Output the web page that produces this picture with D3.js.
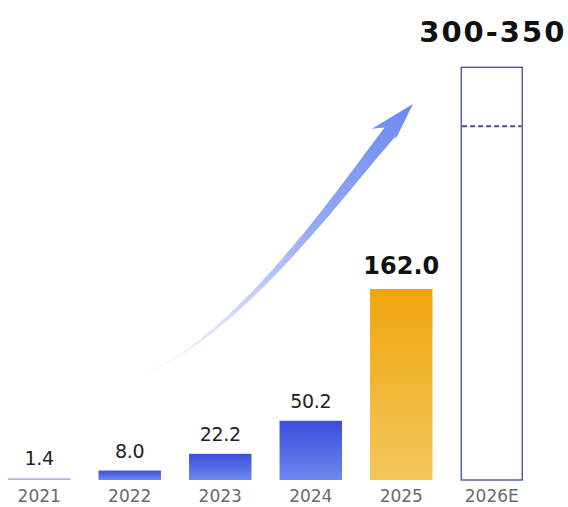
<!DOCTYPE html>
<html>
<head>
<meta charset="utf-8">
<script src="https://cdn.jsdelivr.net/npm/d3@7"></script>
<style>
  html, body { margin: 0; padding: 0; background: #ffffff; }
  svg { display: block; }
</style>
</head>
<body>
<svg id="chart" width="568" height="507"></svg>
<script>
// Yearly values; 2026E is a forecast range
const years = ["2021", "2022", "2023", "2024", "2025", "2026E"];
const values = [1.4, 8.0, 22.2, 50.2, 162.0, null];
const valueLabels = ["1.4", "8.0", "22.2", "50.2", "162.0", "300-350"];
const forecastLow = 300;
const forecastHigh = 350;

const svg = d3.select("#chart");

const x = d3.scaleBand().domain(years).range([8, 523]).paddingInner(0.31).paddingOuter(0);
const y = d3.scaleLinear().domain([0, 350]).range([480, 67.3]);

const defs = svg.append("defs");

function vGrad(id, top, bottom) {
  const g = defs.append("linearGradient").attr("id", id)
    .attr("x1", 0).attr("y1", 0).attr("x2", 0).attr("y2", 1);
  g.append("stop").attr("offset", "0%").attr("stop-color", top);
  g.append("stop").attr("offset", "100%").attr("stop-color", bottom);
}
vGrad("blueGrad", "#3a4ddd", "#6e88ee");
vGrad("goldGrad", "#f0a50c", "#f2c75c");

// Growth arrow: tapered curved shaft with swept head, drawn behind the bars
const p0 = [x("2022") + 42, y(88)];
const p3 = [390, 132];
const tip = [413, 104];
const dLen = Math.hypot(tip[0] - p3[0], tip[1] - p3[1]);
const d = [(tip[0] - p3[0]) / dLen, (tip[1] - p3[1]) / dLen];
const p2 = [p3[0] - d[0] * 80, p3[1] - d[1] * 80];
const p1 = [240, 335];

function bez(t) {
  const u = 1 - t;
  const a = u * u * u, b = 3 * u * u * t, c = 3 * u * t * t, e = t * t * t;
  return [a * p0[0] + b * p1[0] + c * p2[0] + e * p3[0],
          a * p0[1] + b * p1[1] + c * p2[1] + e * p3[1]];
}
function tangent(t) {
  const u = 1 - t;
  const tx = 3 * u * u * (p1[0] - p0[0]) + 6 * u * t * (p2[0] - p1[0]) + 3 * t * t * (p3[0] - p2[0]);
  const ty = 3 * u * u * (p1[1] - p0[1]) + 6 * u * t * (p2[1] - p1[1]) + 3 * t * t * (p3[1] - p2[1]);
  const l = Math.hypot(tx, ty);
  return [tx / l, ty / l];
}
const N = 60;
const left = [], right = [];
for (let k = 0; k <= N; k++) {
  const t = k / N;
  const p = bez(t), tg = tangent(t);
  const hw = 0.5 + 6.5 * Math.pow(t, 1.3);
  const n = [tg[1], -tg[0]]; // left-hand normal
  left.push([p[0] + n[0] * hw, p[1] + n[1] * hw]);
  right.push([p[0] - n[0] * hw, p[1] - n[1] * hw]);
}
const nEnd = [d[1], -d[0]];
const leftBarb = [p3[0] + nEnd[0] * 16 - d[0] * 9, p3[1] + nEnd[1] * 16 - d[1] * 9];
const rightBarb = [p3[0] - nEnd[0] * 9 - d[0] * 2, p3[1] - nEnd[1] * 9 - d[1] * 2];
const outline = left.concat([leftBarb, tip, rightBarb]).concat(right.slice().reverse());

const ag = defs.append("linearGradient").attr("id", "arrowGrad")
  .attr("gradientUnits", "userSpaceOnUse")
  .attr("x1", p0[0]).attr("y1", p0[1]).attr("x2", tip[0]).attr("y2", tip[1]);
ag.append("stop").attr("offset", "0%").attr("stop-color", "#7d98ef").attr("stop-opacity", 0);
ag.append("stop").attr("offset", "25%").attr("stop-color", "#7d98ef").attr("stop-opacity", 0.3);
ag.append("stop").attr("offset", "60%").attr("stop-color", "#7794ef").attr("stop-opacity", 0.8);
ag.append("stop").attr("offset", "100%").attr("stop-color", "#6b8af0").attr("stop-opacity", 1);

svg.append("path")
  .attr("d", d3.line()(outline) + "Z")
  .attr("fill", "url(#arrowGrad)");

// Actual bars
const bars = years.slice(0, 5).map((yr, i) => ({ yr, v: values[i], i }));
svg.selectAll("rect.bar").data(bars).enter().append("rect")
  .attr("class", "bar")
  .attr("x", d => x(d.yr))
  .attr("width", x.bandwidth())
  .attr("y", d => y(d.v))
  .attr("height", d => y(0) - y(d.v))
  .attr("fill", d => d.i === 0 ? "#a9b5e6" : (d.i === 4 ? "url(#goldGrad)" : "url(#blueGrad)"));

// Forecast bar: outline to the upper bound, dashed line at the lower bound
const fx = x("2026E");
svg.append("rect")
  .attr("x", fx + 0.75).attr("y", y(forecastHigh))
  .attr("width", x.bandwidth() - 1.5).attr("height", y(0) - y(forecastHigh))
  .attr("fill", "#ffffff").attr("stroke", "#5660a6").attr("stroke-width", 1.5);
svg.append("line")
  .attr("x1", fx + 1.5).attr("x2", fx + x.bandwidth() - 1.5)
  .attr("y1", y(forecastLow)).attr("y2", y(forecastLow))
  .attr("stroke", "#4a5496").attr("stroke-width", 1.8).attr("stroke-dasharray", "5,3");

// Value labels
const labelData = years.map((yr, i) => ({
  yr, i, text: valueLabels[i],
  top: i === 5 ? y(forecastHigh) : y(values[i])
}));
svg.selectAll("text.val").data(labelData).enter().append("text")
  .attr("class", "val")
  .attr("x", d => x(d.yr) + x.bandwidth() / 2 + (d.i === 5 ? 1 : 0))
  .attr("y", d => d.top - (d.i === 5 ? 25 : d.i === 4 ? 15 : 13))
  .attr("text-anchor", "middle")
  .attr("font-family", "'DejaVu Sans', sans-serif")
  .attr("font-weight", d => d.i >= 4 ? "bold" : "normal")
  .attr("font-size", d => d.i === 5 ? 29 : d.i === 4 ? 24 : 19)
  .attr("letter-spacing", d => d.i === 5 ? 2 : d.i === 4 ? 0 : -0.3)
  .attr("fill", d => d.i >= 4 ? "#111111" : "#222222")
  .text(d => d.text);

// Year axis labels
const xAxis = svg.append("g").attr("transform", `translate(0,${y(0)})`)
  .call(d3.axisBottom(x).tickSize(0));
xAxis.select(".domain").remove();
xAxis.selectAll("text")
  .attr("y", 22)
  .attr("dy", null)
  .attr("font-family", "'DejaVu Sans', sans-serif")
  .attr("font-size", 17)
  .attr("fill", "#6a6a6a");
</script>
</body>
</html>
